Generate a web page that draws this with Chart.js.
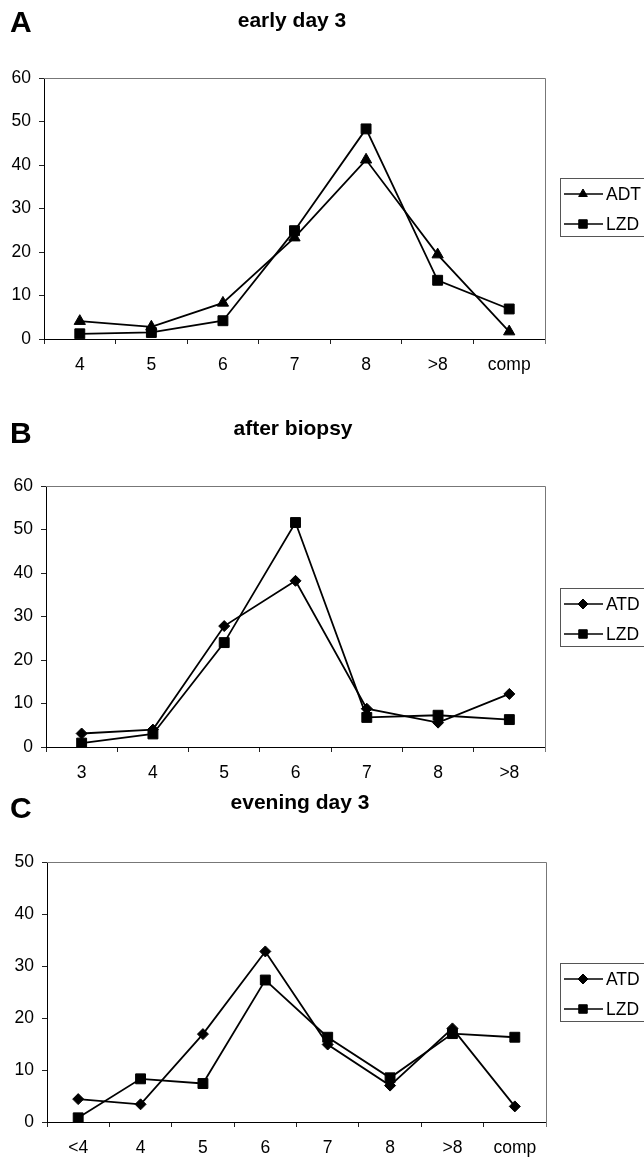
<!DOCTYPE html>
<html>
<head>
<meta charset="utf-8">
<script src="https://cdn.jsdelivr.net/npm/chart.js"></script>
<style>
  html, body { margin: 0; padding: 0; background: #fff; }
  #wrap { position: relative; width: 644px; height: 1157px; overflow: hidden; }
  canvas { position: absolute; left: 0; }
</style>
</head>
<body>
<div id="wrap">
  <canvas id="chartA" width="644" height="390" style="top:0px"></canvas>
  <canvas id="chartB" width="644" height="390" style="top:390px"></canvas>
  <canvas id="chartC" width="644" height="377" style="top:780px"></canvas>
</div>
<script>
// panel A - early day 3
const labelsA = ["4", "5", "6", "7", "8", ">8", "comp"];
const adtA = [4.1, 2.8, 8.3, 23.3, 41.2, 19.4, 1.7];
const lzdA = [1.2, 1.5, 4.2, 24.9, 48.3, 13.5, 6.9];

// panel B - after biopsy
const labelsB = ["3", "4", "5", "6", "7", "8", ">8"];
const atdB = [3.1, 4.0, 27.8, 38.2, 8.8, 5.6, 12.2];
const lzdB = [0.9, 3.0, 24.0, 51.6, 6.8, 7.3, 6.3];

// panel C - evening day 3
const labelsC = ["<4", "4", "5", "6", "7", "8", ">8", "comp"];
const atdC = [4.4, 3.4, 16.9, 32.8, 14.9, 7.0, 18.0, 3.0];
const lzdC = [0.8, 8.3, 7.4, 27.3, 16.3, 8.5, 17.0, 16.3];

const FONT = "'Liberation Sans', Arial, sans-serif";

function drawMarker(ctx, style, r, x, y) {
  ctx.beginPath();
  if (style === "triangle") {
    ctx.moveTo(x, y - r);
    ctx.lineTo(x + r * 0.866, y + r / 2);
    ctx.lineTo(x - r * 0.866, y + r / 2);
    ctx.closePath();
  } else if (style === "rect") {
    const s = r * Math.SQRT1_2;
    ctx.rect(x - s, y - s, 2 * s, 2 * s);
  } else {
    ctx.moveTo(x, y - r);
    ctx.lineTo(x + r, y);
    ctx.lineTo(x, y + r);
    ctx.lineTo(x - r, y);
    ctx.closePath();
  }
  ctx.fill();
  ctx.stroke();
}

// letter, title, top/right frame and the boxed legend
const panelDecor = {
  id: "panelDecor",
  afterDraw(chart, args, opts) {
    const ctx = chart.ctx;
    const a = chart.chartArea;
    ctx.save();

    ctx.strokeStyle = "#777";
    ctx.lineWidth = 1;
    ctx.beginPath();
    ctx.moveTo(a.left, a.top + 0.5);
    ctx.lineTo(a.right + 0.5, a.top + 0.5);
    ctx.lineTo(a.right + 0.5, a.bottom + 5);
    ctx.stroke();

    ctx.fillStyle = "#000";
    ctx.textBaseline = "alphabetic";
    ctx.textAlign = "left";
    ctx.font = "bold 30px " + FONT;
    ctx.fillText(opts.letter, 10, opts.letterY);

    ctx.textAlign = "center";
    ctx.font = "bold 21px " + FONT;
    ctx.fillText(opts.title, opts.titleX, opts.titleY);

    const bx = 560, by = opts.legendTop;
    ctx.strokeStyle = "#555";
    ctx.strokeRect(bx + 0.5, by + 0.5, 120, 58);

    ctx.font = "17.5px " + FONT;
    ctx.textAlign = "left";
    ctx.textBaseline = "middle";
    chart.data.datasets.forEach((ds, i) => {
      const y = by + 16 + 30 * i;
      ctx.strokeStyle = "#000";
      ctx.lineWidth = 1.4;
      ctx.beginPath();
      ctx.moveTo(564, y);
      ctx.lineTo(603, y);
      ctx.stroke();
      ctx.fillStyle = "#000";
      ctx.lineWidth = 1;
      drawMarker(ctx, ds.pointStyle, ds.pointStyle === "rect" ? 6 : 5, 583, y);
      ctx.fillText(ds.label, 606, y + 1);
    });
    ctx.restore();
  }
};

function makePanel(id, labels, series, box, yMax, decor) {
  const canvas = document.getElementById(id);
  const h = canvas.height;
  return new Chart(canvas, {
    type: "line",
    data: {
      labels: labels,
      datasets: series.map(s => ({
        label: s.label,
        data: s.data,
        borderColor: "#000",
        borderWidth: 1.8,
        backgroundColor: "#000",
        pointStyle: s.style,
        pointRadius: s.radius,
        pointBackgroundColor: "#000",
        pointBorderColor: "#000",
        pointBorderWidth: 1,
        tension: 0,
        fill: false,
      })),
    },
    options: {
      responsive: false,
      animation: false,
      layout: { padding: { left: 0, top: box.top, right: 644 - box.right, bottom: 0 } },
      scales: {
        x: {
          offset: true,
          grid: { display: true, drawOnChartArea: false, tickLength: 5, color: "#222", offset: true },
          border: { color: "#000", width: 1 },
          ticks: { color: "#000", font: { family: FONT, size: 17.5 }, padding: 11, maxRotation: 0, autoSkip: false },
          afterFit: s => { s.height = h - box.bottom; },
        },
        y: {
          min: 0,
          max: yMax,
          grid: { drawOnChartArea: false, tickLength: 5, color: "#222" },
          border: { color: "#000", width: 1 },
          ticks: { stepSize: 10, color: "#000", font: { family: FONT, size: 17.5 }, padding: 8 },
          afterFit: s => { s.width = box.left; },
        },
      },
      plugins: {
        legend: { display: false },
        tooltip: { enabled: false },
        panelDecor: decor,
      },
    },
    plugins: [panelDecor],
  });
}

makePanel("chartA", labelsA, [
  { label: "ADT", data: adtA, style: "triangle", radius: 6.5 },
  { label: "LZD", data: lzdA, style: "rect", radius: 7 },
], { left: 44, top: 78, right: 545, bottom: 339 }, 60,
  { letter: "A", letterY: 32, title: "early day 3", titleX: 292, titleY: 27, legendTop: 178 });

makePanel("chartB", labelsB, [
  { label: "ATD", data: atdB, style: "rectRot", radius: 5.5 },
  { label: "LZD", data: lzdB, style: "rect", radius: 7 },
], { left: 46, top: 96, right: 545, bottom: 357 }, 60,
  { letter: "B", letterY: 53, title: "after biopsy", titleX: 293, titleY: 45, legendTop: 198 });

makePanel("chartC", labelsC, [
  { label: "ATD", data: atdC, style: "rectRot", radius: 5.5 },
  { label: "LZD", data: lzdC, style: "rect", radius: 7 },
], { left: 47, top: 82, right: 546, bottom: 342 }, 50,
  { letter: "C", letterY: 38, title: "evening day 3", titleX: 300, titleY: 29, legendTop: 183 });
</script>
</body>
</html>
